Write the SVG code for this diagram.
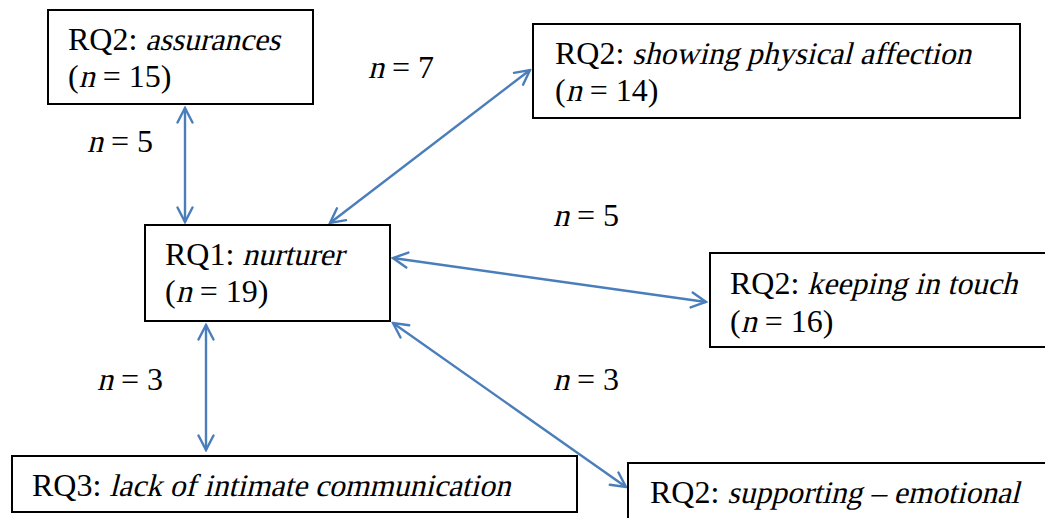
<svg xmlns="http://www.w3.org/2000/svg" width="1045" height="518" viewBox="0 0 1045 518">
  <style>
    .box { fill: #ffffff; stroke: #000000; stroke-width: 2; }
    .t { font-family: "Liberation Serif", "Times New Roman", serif; font-size: 32px; fill: #000000; }
    .it { font-size: 31.5px; }
    .link { stroke: #4a7ebb; stroke-width: 2.4; fill: none; marker-start: url(#head); marker-end: url(#head); }
  </style>
  <defs>
    <marker id="head" viewBox="0 0 18 18" refX="16" refY="9" markerWidth="18" markerHeight="18" markerUnits="userSpaceOnUse" orient="auto-start-reverse">
      <path d="M1.5,1.5 L16,9 L1.5,16.5" fill="none" stroke="#4a7ebb" stroke-width="2.4" stroke-linecap="round" stroke-linejoin="miter"/>
    </marker>
  </defs>
  <rect x="0" y="0" width="1045" height="518" fill="#ffffff"/>

  <!-- italic runs are the serif face slanted with skewX, placed after the upright run -->

  <g id="connectors">
    <line class="link" x1="185" y1="108" x2="185" y2="222"/>
    <line class="link" x1="330" y1="223" x2="530" y2="70"/>
    <line class="link" x1="393" y1="258" x2="706" y2="302"/>
    <line class="link" x1="393" y1="323" x2="626" y2="487"/>
    <line class="link" x1="206" y1="325" x2="206" y2="450"/>
  </g>

  <g id="labels">
    <text class="t" transform="translate(368,78) skewX(-14)">n</text>
    <text class="t" x="392" y="78">= 7</text>
    <text class="t" transform="translate(87,152) skewX(-14)">n</text>
    <text class="t" x="111" y="152">= 5</text>
    <text class="t" transform="translate(553,226) skewX(-14)">n</text>
    <text class="t" x="577" y="226">= 5</text>
    <text class="t" transform="translate(97,390) skewX(-14)">n</text>
    <text class="t" x="121" y="390">= 3</text>
    <text class="t" transform="translate(553,390) skewX(-14)">n</text>
    <text class="t" x="577" y="390">= 3</text>
  </g>

  <g id="assurances">
    <rect class="box" x="48" y="10" width="265" height="94"/>
    <text class="t" x="68" y="50">RQ2:</text>
    <text class="t it" transform="translate(145.3,50) skewX(-14)">assurances</text>
    <text class="t" y="87"><tspan x="68">(</tspan><tspan x="102.7">= 15)</tspan></text>
    <text class="t" transform="translate(78.7,87) skewX(-14)">n</text>
  </g>

  <g id="physical-affection">
    <rect class="box" x="533" y="24" width="487" height="94"/>
    <text class="t" x="555" y="64">RQ2:</text>
    <text class="t it" transform="translate(632.3,64) skewX(-14)">showing physical affection</text>
    <text class="t" y="101"><tspan x="555">(</tspan><tspan x="589.7">= 14)</tspan></text>
    <text class="t" transform="translate(565.7,101) skewX(-14)">n</text>
  </g>

  <g id="nurturer">
    <rect class="box" x="145" y="225" width="245" height="96"/>
    <text class="t" x="165" y="265">RQ1:</text>
    <text class="t it" transform="translate(242.3,265) skewX(-14)">nurturer</text>
    <text class="t" y="302"><tspan x="165">(</tspan><tspan x="199.7">= 19)</tspan></text>
    <text class="t" transform="translate(175.7,302) skewX(-14)">n</text>
  </g>

  <g id="keeping-in-touch">
    <rect class="box" x="710" y="253" width="345" height="94"/>
    <text class="t" x="730" y="294">RQ2:</text>
    <text class="t it" transform="translate(807.3,294) skewX(-14)">keeping in touch</text>
    <text class="t" y="332"><tspan x="730">(</tspan><tspan x="764.7">= 16)</tspan></text>
    <text class="t" transform="translate(740.7,332) skewX(-14)">n</text>
  </g>

  <g id="intimate-communication">
    <rect class="box" x="12" y="456" width="565" height="56"/>
    <text class="t" x="32" y="496">RQ3:</text>
    <text class="t it" transform="translate(109.3,496) skewX(-14)">lack of intimate communication</text>
  </g>

  <g id="supporting-emotional">
    <rect class="box" x="628" y="463" width="427" height="70"/>
    <text class="t" x="650" y="503">RQ2:</text>
    <text class="t it" transform="translate(727.3,503) skewX(-14)">supporting – emotional</text>
  </g>
</svg>
